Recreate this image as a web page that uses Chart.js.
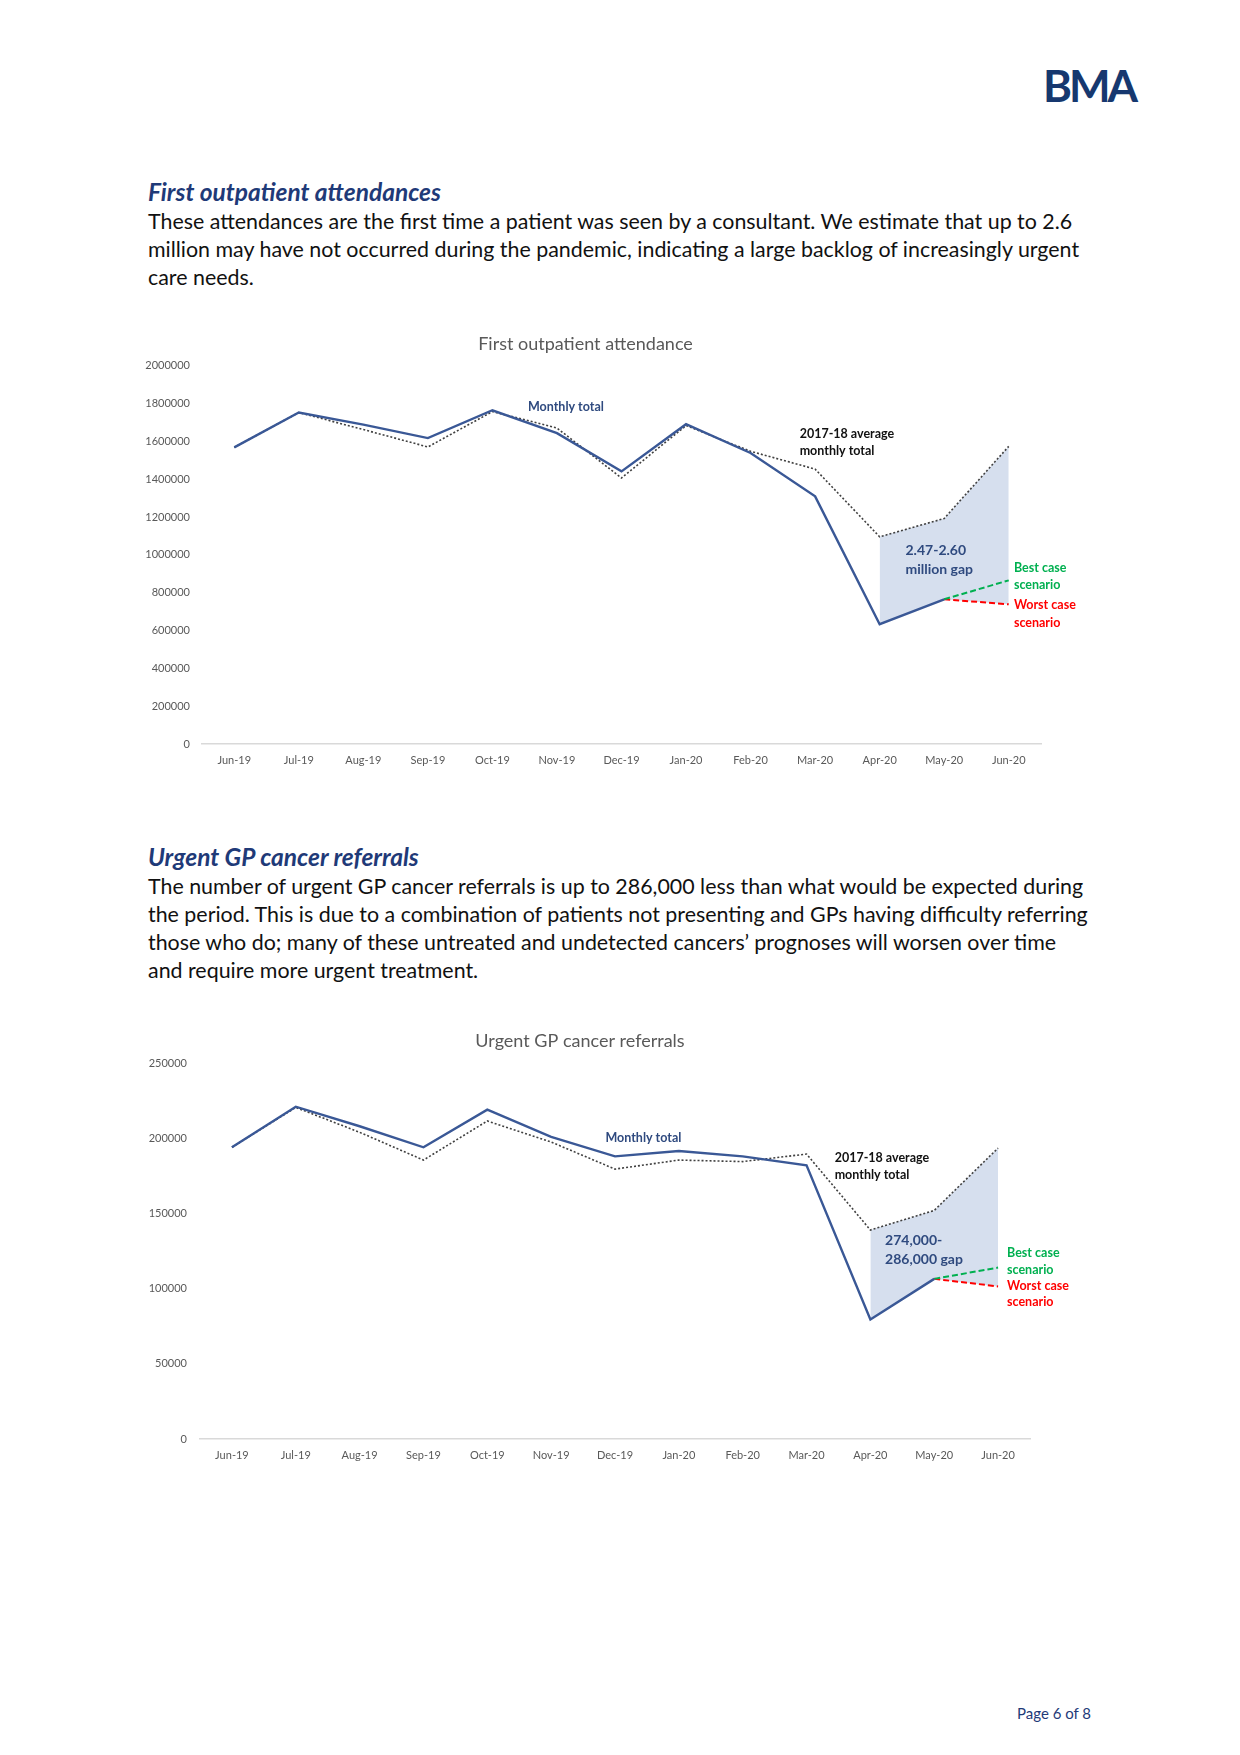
<!DOCTYPE html>
<html>
<head>
<meta charset="utf-8">
<script src="https://cdn.jsdelivr.net/npm/chart.js@4"></script>
<style>
  body { margin: 0; background: #fff; }
  #page { position: relative; width: 1240px; height: 1755px; background: #fff; font-family: Lato, "Open Sans", sans-serif; }
  .logo { position: absolute; left: 1043px; top: 59px; font: bold 44px Lato, sans-serif; color: #16386f; letter-spacing: -3px; }
  .heading { position: absolute; left: 148px; font: italic bold 24.5px/28px Lato, sans-serif; color: #1f3a78; white-space: nowrap; }
  .body { position: absolute; left: 148px; font: 21.4px/28px Lato, sans-serif; color: #111; white-space: nowrap; }
  .footer { position: absolute; left: 1017px; top: 1704px; font: 15px Lato, sans-serif; color: #1f3a78; }
  .chart { position: absolute; left: 130px; }
</style>
</head>
<body>
<div id="page">
  <div class="logo">BMA</div>

  <div class="heading" style="top:178px">First outpatient attendances</div>
  <div class="body" style="top:207px">These attendances are the first time a patient was seen by a consultant. We estimate that up to 2.6<br>million may have not occurred during the pandemic, indicating a large backlog of increasingly urgent<br>care needs.</div>

  <div class="chart" style="top:320px;width:970px;height:460px"><canvas id="chartOutpatient"></canvas></div>

  <div class="heading" style="top:843px">Urgent GP cancer referrals</div>
  <div class="body" style="top:872px">The number of urgent GP cancer referrals is up to 286,000 less than what would be expected during<br>the period. This is due to a combination of patients not presenting and GPs having difficulty referring<br>those who do; many of these untreated and undetected cancers’ prognoses will worsen over time<br>and require more urgent treatment.</div>

  <div class="chart" style="top:1010px;width:970px;height:470px"><canvas id="chartReferrals"></canvas></div>

  <div class="footer">Page 6 of 8</div>
</div>

<script>
const months = ["Jun-19", "Jul-19", "Aug-19", "Sep-19", "Oct-19", "Nov-19", "Dec-19", "Jan-20", "Feb-20", "Mar-20", "Apr-20", "May-20", "Jun-20"];

// first outpatient attendance
const outpatientMonthly = [1568000, 1752000, 1688000, 1617000, 1764000, 1643000, 1441000, 1690000, 1538000, 1309000, 633000, 765000, null];
const outpatientAverage = [1568000, 1752000, 1662000, 1570000, 1757000, 1670000, 1406000, 1683000, 1547000, 1453000, 1095000, 1192000, 1573000];
const outpatientBest = [null, null, null, null, null, null, null, null, null, null, null, 765000, 865000];
const outpatientWorst = [null, null, null, null, null, null, null, null, null, null, null, 765000, 738000];
const outpatientGapLow = [null, null, null, null, null, null, null, null, null, null, 633000, 765000, 738000];
const outpatientGapTop = [null, null, null, null, null, null, null, null, null, null, 1095000, 1192000, 1573000];
const outpatientTicks = [0, 200000, 400000, 600000, 800000, 1000000, 1200000, 1400000, 1600000, 1800000, 2000000];

// urgent GP cancer referrals
const referralMonthly = [194000, 221000, 208000, 194000, 219000, 201000, 188000, 191500, 188000, 182000, 79500, 106500, null];
const referralAverage = [194000, 220500, 204000, 185500, 211500, 197500, 179500, 185500, 184500, 189500, 139000, 152000, 193500];
const referralBest = [null, null, null, null, null, null, null, null, null, null, null, 106500, 114000];
const referralWorst = [null, null, null, null, null, null, null, null, null, null, null, 106500, 101500];
const referralGapLow = [null, null, null, null, null, null, null, null, null, null, 79500, 106500, 101500];
const referralGapTop = [null, null, null, null, null, null, null, null, null, null, 139000, 152000, 193500];
const referralTicks = [0, 50000, 100000, 150000, 200000, 250000];

const NAVY = "#3a5896";
const LABEL_NAVY = "#2f4a7f";
const GREEN = "#00b050";
const RED = "#ff0000";
const GREY = "#595959";

// text notes placed in data units (category index, value)
const outpatientNotes = [
  { text: "Monthly total", x: 4.55, y: 1783000, color: LABEL_NAVY, size: 12.5 },
  { text: "2017-18 average", x: 8.76, y: 1640000, color: "#111", size: 12.5 },
  { text: "monthly total", x: 8.76, y: 1550000, color: "#111", size: 12.5 },
  { text: "2.47-2.60", x: 10.4, y: 1023000, color: LABEL_NAVY, size: 14 },
  { text: "million gap", x: 10.4, y: 922000, color: LABEL_NAVY, size: 14 },
  { text: "Best case", x: 12.08, y: 928000, color: GREEN, size: 12.5 },
  { text: "scenario", x: 12.08, y: 839000, color: GREEN, size: 12.5 },
  { text: "Worst case", x: 12.08, y: 733000, color: RED, size: 12.5 },
  { text: "scenario", x: 12.08, y: 639000, color: RED, size: 12.5 },
];
const referralNotes = [
  { text: "Monthly total", x: 5.85, y: 200300, color: LABEL_NAVY, size: 12.5 },
  { text: "2017-18 average", x: 9.44, y: 187000, color: "#111", size: 12.5 },
  { text: "monthly total", x: 9.44, y: 175700, color: "#111", size: 12.5 },
  { text: "274,000-", x: 10.23, y: 132000, color: LABEL_NAVY, size: 14 },
  { text: "286,000 gap", x: 10.23, y: 119400, color: LABEL_NAVY, size: 14 },
  { text: "Best case", x: 12.14, y: 124000, color: GREEN, size: 12.5 },
  { text: "scenario", x: 12.14, y: 112700, color: GREEN, size: 12.5 },
  { text: "Worst case", x: 12.14, y: 102100, color: RED, size: 12.5 },
  { text: "scenario", x: 12.14, y: 91200, color: RED, size: 12.5 },
];

const notesPlugin = {
  id: "notes",
  afterDatasetsDraw(chart, args, opts) {
    const ctx = chart.ctx;
    const xs = chart.scales.x, ys = chart.scales.y;
    ctx.save();
    ctx.textAlign = "left";
    ctx.textBaseline = "middle";
    (opts.items || []).forEach((n) => {
      ctx.font = "bold " + n.size + "px Lato, sans-serif";
      ctx.fillStyle = n.color;
      ctx.fillText(n.text, xs.getPixelForValue(n.x), ys.getPixelForValue(n.y));
    });
    ctx.restore();
  },
};

const renderChart = (id, cfg) => {
  const ctx = document.getElementById(id).getContext("2d");
  return new Chart(ctx, {
    type: "line",
    data: {
      labels: months,
      // first dataset is painted last, so the monthly total sits on top
      datasets: [
        { label: "Monthly total", data: cfg.monthly, borderColor: NAVY, borderWidth: 2.4, fill: false },
        { label: "Best case scenario", data: cfg.best, borderColor: GREEN, borderWidth: 2, borderDash: [6, 3], fill: false },
        { label: "Worst case scenario", data: cfg.worst, borderColor: RED, borderWidth: 2, borderDash: [6, 3], fill: false },
        { label: "2017-18 average monthly total", data: cfg.average, borderColor: "#404040", borderWidth: 1.6, borderDash: [2, 2], fill: false },
        { label: "gap", data: cfg.gapTop, borderWidth: 0, borderColor: "rgba(0,0,0,0)", backgroundColor: "#d6dfee", fill: "+1" },
        { label: "gap low", data: cfg.gapLow, borderWidth: 0, borderColor: "rgba(0,0,0,0)", fill: false },
      ],
    },
    options: {
      responsive: true,
      maintainAspectRatio: false,
      animation: false,
      elements: { point: { radius: 0, hoverRadius: 0 }, line: { tension: 0 } },
      layout: { padding: { top: cfg.padTop, right: cfg.padRight, bottom: 0, left: 0 } },
      scales: {
        x: {
          offset: true,
          grid: { display: false, drawTicks: false },
          border: { display: true, color: "#d9d9d9", width: 1.5 },
          ticks: { color: GREY, font: { family: "Lato, sans-serif", size: 11 }, padding: 10, maxRotation: 0, autoSkip: false },
          afterFit: (s) => { s.height = cfg.xHeight; },
        },
        y: {
          min: 0,
          max: cfg.ticks[cfg.ticks.length - 1],
          grid: { display: false, drawTicks: false },
          border: { display: false },
          afterBuildTicks: (s) => { s.ticks = cfg.ticks.map((v) => ({ value: v })); },
          ticks: { color: GREY, font: { family: "Lato, sans-serif", size: 11 }, padding: cfg.yPad, callback: (v) => String(v) },
          afterFit: (s) => { s.width = cfg.yWidth; },
        },
      },
      plugins: {
        legend: { display: false },
        tooltip: { enabled: false },
        filler: { drawTime: "beforeDatasetsDraw" },
        title: {
          display: true,
          text: cfg.title,
          color: GREY,
          font: { family: "Lato, sans-serif", size: 18, weight: "normal" },
          padding: { top: 0, bottom: cfg.titleGap },
        },
        notes: { items: cfg.notes },
      },
    },
    plugins: [notesPlugin],
  });
};

renderChart("chartOutpatient", {
  title: "First outpatient attendance",
  monthly: outpatientMonthly, average: outpatientAverage,
  best: outpatientBest, worst: outpatientWorst,
  gapLow: outpatientGapLow, gapTop: outpatientGapTop,
  ticks: outpatientTicks, notes: outpatientNotes,
  padTop: 13, titleGap: 11, padRight: 59, xHeight: 36, yWidth: 72, yPad: 12,
});

renderChart("chartReferrals", {
  title: "Urgent GP cancer referrals",
  monthly: referralMonthly, average: referralAverage,
  best: referralBest, worst: referralWorst,
  gapLow: referralGapLow, gapTop: referralGapTop,
  ticks: referralTicks, notes: referralNotes,
  padTop: 20, titleGap: 11.5, padRight: 70, xHeight: 41, yWidth: 70, yPad: 13,
});
</script>
</body>
</html>
